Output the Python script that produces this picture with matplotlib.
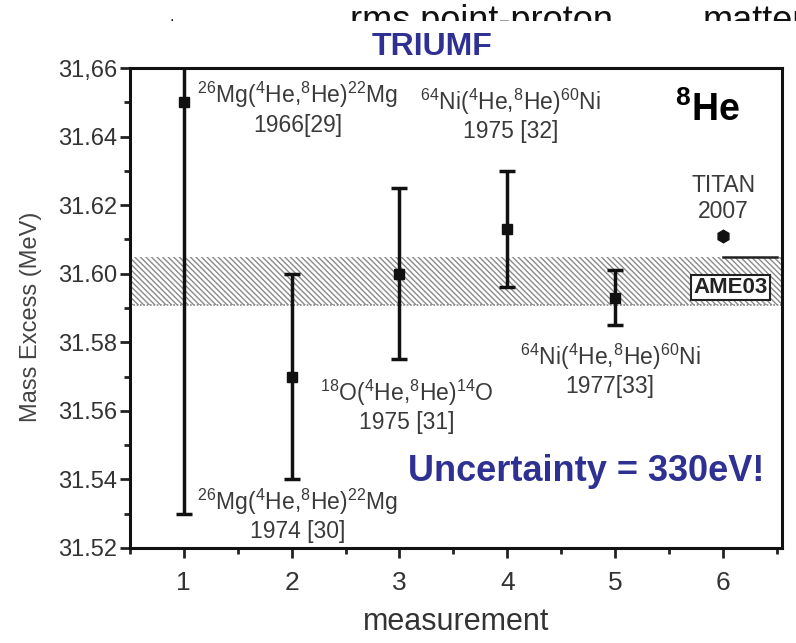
import matplotlib.pyplot as plt
from matplotlib.ticker import MultipleLocator
from matplotlib.patches import Rectangle
from matplotlib.transforms import Bbox

plt.rcParams['font.family'] = ['Liberation Sans', 'DejaVu Sans']
plt.rcParams['hatch.linewidth'] = 1.0
plt.rcParams['mathtext.fontset'] = 'custom'
plt.rcParams['mathtext.rm'] = 'Liberation Sans'
plt.rcParams['mathtext.bf'] = 'Liberation Sans:bold'

# measurements (MeV)
meas = [1, 2, 3, 4, 5]
mass = [31.650, 31.570, 31.600, 31.613, 31.593]
err = [0.120, 0.030, 0.025, 0.017, 0.008]
titan_x = 6
titan_y = 31.611
ame_lo, ame_hi = 31.591, 31.605

# labels: (text, x, y)
labels = [
    (r'$^{26}$Mg($^{4}$He,$^{8}$He)$^{22}$Mg' + '\n1966[29]', 2.06, 31.6483),
    (r'$^{64}$Ni($^{4}$He,$^{8}$He)$^{60}$Ni' + '\n1975 [32]', 4.03, 31.6463),
    (r'$^{18}$O($^{4}$He,$^{8}$He)$^{14}$O' + '\n1975 [31]', 3.07, 31.5614),
    (r'$^{64}$Ni($^{4}$He,$^{8}$He)$^{60}$Ni' + '\n1977[33]', 4.95, 31.5719),
    (r'$^{26}$Mg($^{4}$He,$^{8}$He)$^{22}$Mg' + '\n1974 [30]', 2.06, 31.5296),
    ('TITAN\n2007', 6.0, 31.622),
]

fig = plt.figure(figsize=(7.96, 6.43), dpi=100)
ax = fig.add_axes([0.163, 0.148, 0.82, 0.746])

# AME03 band
ax.add_patch(Rectangle((0.5, ame_lo), 6.2, ame_hi - ame_lo, facecolor='white',
                       edgecolor='#8a8a8a', lw=0, hatch='\\' * 6, zorder=1))
ax.axhline(ame_lo, color='#888888', lw=1.2, ls=(0, (1, 1)), zorder=2)
ax.plot([6.0, 6.5], [ame_hi, ame_hi], color='#222222', lw=1.8, zorder=3)

ax.errorbar(meas, mass, yerr=err, fmt='s', color='#111111', ms=7, lw=2.5,
            capsize=6, capthick=2.5, zorder=4)
ax.plot([titan_x], [titan_y], marker='h', color='#111111', ms=9, ls='none', zorder=4)

for txt, x, y in labels:
    ax.text(x, y, txt, ha='center', va='center', fontsize=16.5, color='#3a3a3a',
            linespacing=1.2)

ax.text(6.07, 31.596, 'AME03', ha='center', va='center', fontsize=16,
        fontweight='bold', color='#222222', zorder=5,
        bbox=dict(boxstyle='square,pad=0.1', fc='white', ec='#222222', lw=1.5))
ax.text(5.85, 31.6478, r'$\mathbf{^8}$He', ha='center', va='center', fontsize=27,
        fontweight='bold', color='black')
ax.text(4.73, 31.5422, 'Uncertainty = 330eV!', ha='center', va='center',
        fontsize=26, fontweight='bold', color='#2e3192')

ax.set_xlim(0.5, 6.55)
ax.set_ylim(31.52, 31.66)
ax.xaxis.set_major_locator(MultipleLocator(1))
ax.xaxis.set_minor_locator(MultipleLocator(0.5))
ax.yaxis.set_minor_locator(MultipleLocator(0.01))
yt = [31.52, 31.54, 31.56, 31.58, 31.60, 31.62, 31.64, 31.66]
ax.set_yticks(yt)
ax.set_yticklabels(['31.52', '31.54', '31.56', '31.58', '31.60', '31.62', '31.64', '31,66'])
ax.tick_params(axis='y', which='major', labelsize=17, length=7, width=2, color='#222222',
               labelcolor='#333333', pad=2)
ax.tick_params(axis='x', which='major', labelsize=19, length=7, width=2, color='#222222',
               labelcolor='#333333', pad=10)
ax.tick_params(which='minor', length=4, width=2, color='#222222')
for s in ax.spines.values():
    s.set_linewidth(2.2)
    s.set_color('#111111')

ax.set_xlabel('measurement', fontsize=22, color='#333333', labelpad=8)
ax.set_ylabel('Mass Excess (MeV)', fontsize=17, color='#444444')
ax.yaxis.set_label_coords(-0.135, 0.481)

fig.text(0.543, 0.927, 'TRIUMF', ha='center', va='center', fontsize=23,
         fontweight='bold', color='#2e3192')

# cut-off heading at the very top (only its upper part shows)
top_clip = Bbox.from_extents(0, 643 - 21, 796, 643)
for txt, x in [('rms point-proton', 0.44), ('matter', 0.883)]:
    t = fig.text(x, 0.952, txt, ha='left', va='baseline', fontsize=26, color='#111111')
    t.set_clip_box(top_clip)
    t.set_clip_on(True)
fig.text(0.216, 0.967, '.', ha='center', va='baseline', fontsize=12, color='#111111')

fig.savefig('out.png', dpi=100)
